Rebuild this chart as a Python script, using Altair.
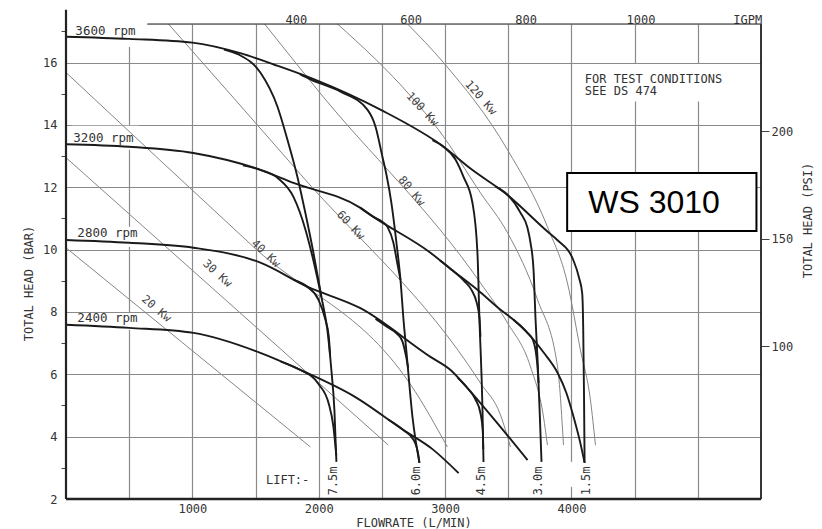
import altair as alt
import pandas as pd

FONT = "DejaVu Sans Mono"
TXT = "#333333"

# ---------------- values (flow L/min, head bar) ----------------
SPEED_3600 = [(0, 16.83), (500, 16.76), (1000, 16.64), (1380, 16.30), (1650, 15.93), (1960, 15.47),
              (2488, 14.49), (2988, 13.30), (3201, 12.60), (3494, 11.75), (3810, 10.58), (3890, 10.30),
              (4016, 9.65), (4060, 9.10), (4085, 8.60), (4093, 7.50), (4099, 5.50), (4104, 3.16)]
SPEED_3200 = [(0, 13.38), (500, 13.30), (1008, 13.10), (1538, 12.56), (1800, 12.14), (2330, 11.34),
              (2433, 11.05), (2884, 9.90), (3044, 9.38), (3256, 8.71), (3438, 8.07), (3541, 7.75),
              (3652, 7.33), (3780, 6.70), (3890, 6.05), (3960, 5.40), (4017, 4.63), (4070, 3.80), (4104, 3.16)]
SPEED_2800 = [(0, 10.31), (500, 10.22), (1008, 10.06), (1538, 9.58), (1910, 8.81), (2330, 8.12),
              (2884, 6.56), (3043, 6.14), (3177, 5.56), (3400, 4.50), (3652, 3.25)]
SPEED_2400 = [(0, 7.59), (500, 7.49), (1008, 7.33), (1538, 6.69), (1855, 6.14), (2290, 5.27),
              (2671, 4.21), (2900, 3.60), (3107, 2.83)]

LIFT_7_5 = [(1250, 16.42), (1365, 16.26), (1538, 15.68), (1673, 14.59), (1752, 13.53), (1831, 12.34),
            (1894, 11.18), (1958, 9.90), (2021, 8.49), (2068, 7.43), (2100, 6.14), (2124, 4.86), (2140, 3.19)]
LIFT_6_0 = [(1850, 15.63), (1934, 15.46), (2172, 15.07), (2385, 14.49), (2449, 13.95), (2504, 12.98),
            (2536, 12.40), (2575, 11.50), (2615, 10.22), (2647, 9.03), (2671, 7.75), (2695, 6.69),
            (2742, 4.63), (2797, 3.16)]
LIFT_4_5 = [(2900, 13.51), (2987, 13.30), (3082, 12.89), (3145, 12.34), (3216, 11.51), (3256, 9.90),
            (3272, 7.75), (3296, 4.86), (3304, 3.19)]
LIFT_3_0 = [(3400, 12.02), (3494, 11.76), (3597, 11.18), (3652, 10.70), (3676, 10.22), (3700, 9.35),
            (3716, 7.75), (3732, 6.46), (3748, 4.86), (3763, 3.19)]

# branches of the lower speeds into the lift lines
BR_75_3200 = [(1400, 12.70), (1538, 12.56), (1680, 12.28), (1800, 11.69), (1895, 10.64), (1955, 9.70), (2021, 8.49)]
BR_75_2800 = [(1800, 9.04), (1910, 8.81), (1997, 8.40), (2053, 7.75), (2080, 7.20), (2090, 6.60)]
BR_75_2400 = [(1700, 6.41), (1840, 6.17), (2000, 5.68), (2080, 5.05), (2115, 4.35), (2139, 3.40)]
BR_60_3200 = [(2330, 11.34), (2433, 11.05), (2500, 10.90), (2544, 10.73), (2591, 10.22), (2620, 9.60), (2647, 9.03)]
BR_60_2800 = [(2450, 7.78), (2545, 7.51), (2620, 7.30), (2663, 7.05), (2690, 6.60), (2708, 6.20)]
BR_60_2400 = [(2550, 4.55), (2671, 4.21), (2750, 3.90), (2789, 3.40), (2797, 3.16)]
BR_45_3200 = [(2960, 9.65), (3044, 9.38), (3150, 9.00), (3210, 8.70), (3250, 8.30), (3272, 7.80), (3280, 7.20)]
BR_45_2800 = [(3100, 5.89), (3177, 5.56), (3240, 5.20), (3280, 4.75), (3298, 4.20), (3302, 3.60)]
BR_30_3200 = [(3541, 7.75), (3652, 7.33), (3695, 7.10), (3716, 6.78), (3730, 6.30), (3740, 5.72)]

# constant power lines (thin)
POWER_20 = [(0, 10.06), (1934, 3.67)]
POWER_30 = [(0, 12.95), (2551, 3.73)]
POWER_40 = [(0, 15.68), (1483, 10.09), (2805, 5.18), (3018, 3.67)]
POWER_60 = [(810, 17.24), (1855, 12.42), (3280, 5.72), (3438, 4.70), (3517, 3.67)]
POWER_80 = [(1571, 17.24), (1989, 15.13), (3280, 8.93), (3494, 7.65), (3676, 6.24), (3779, 4.63), (3810, 3.73)]
POWER_100 = [(2148, 17.24), (2733, 14.90), (2947, 13.85), (3280, 11.82), (3494, 10.54), (3732, 8.39),
             (3890, 6.24), (3937, 3.73)]
POWER_120 = [(2702, 17.24), (2987, 16.00), (3494, 13.20), (3810, 10.73), (3968, 8.93), (4071, 6.78),
             (4150, 5.18), (4190, 3.73)]

RPM_LABELS = ["3600 rpm", "3200 rpm", "2800 rpm", "2400 rpm"]
RPM_Q = [74, 58, 90, 90]
RPM_H = [16.90, 13.46, 10.41, 7.68]

KW_LABELS = ["20 Kw", "30 Kw", "40 Kw", "60 Kw", "80 Kw", "100 Kw", "120 Kw"]
KW_Q = [713, 1195, 1578, 2250, 2732, 2818, 3280]
KW_H = [8.09, 9.22, 9.86, 10.77, 11.87, 14.49, 14.86]
KW_ANGLE = [40, 42, 43, 47, 50, 47, 49]

LIFT_LABELS = ["7.5m", "6.0m", "4.5m", "3.0m", "1.5m"]
LIFT_Q = [2112, 2770, 3288, 3739, 4119]
LIFT_LABEL_H = 2.58

NOTE_LINES = ["FOR TEST CONDITIONS", "SEE DS 474"]
NOTE_Q = 4106
NOTE_H = [15.35, 14.97]

X_TICKS = list(range(0, 5501, 500))
Y_TICKS = list(range(2, 18))
PSI_TICKS = [100, 150, 200, 250]
IGPM_TICKS = [200, 400, 600, 800, 1000, 1186]

Q_MAX = 5500
H_MIN, H_MAX = 2.0, 17.2369          # 250 psi
PSI_PER_BAR = 1 / 0.0689476
L_PER_IGPM = 4.54609

# white label backgrounds (q0, q1, h0, h1) in data units
LABEL_BOXES = [(10, 640, 16.50, 17.2369), (45, 575, 13.20, 13.97), (45, 575, 10.08, 10.73),
               (45, 575, 7.43, 7.97), (4072, 5300, 14.75, 15.95), (3990, 4060, 2.39, 3.19)]
TITLE_BOX = (3966, 5464, 10.60, 12.455)
TITLE_TEXT = "WS 3010"
TITLE_Q, TITLE_H = 4133, 11.17

# ---------------- axes ----------------
XS = alt.Scale(domain=[0, Q_MAX], nice=False, zero=False)
YS = alt.Scale(domain=[H_MIN, H_MAX], nice=False, zero=False)

x_axis = alt.Axis(
    values=X_TICKS, format="d",
    labelExpr="(datum.value >= 1000 && datum.value <= 4000 && datum.value % 1000 === 0) ? datum.label : ''",
    grid=True, gridColor="#8a8a8a", gridWidth=1.2,
    gridOpacity={"condition": {"test": "datum.value > 0 && datum.value < 5500", "value": 1}, "value": 0},
    ticks=False, domain=False, labelPadding=4, labelOverlap=False, labelFlush=False,
    labelFont=FONT, labelFontSize=12, labelColor=TXT,
    title="FLOWRATE (L/MIN)", titleFont=FONT, titleFontSize=12, titleFontWeight="normal",
    titleColor=TXT, titleY=27, titleBaseline="alphabetic",
)
y_axis = alt.Axis(
    values=Y_TICKS, format="d", labelExpr="datum.value % 2 === 0 ? datum.label : ''",
    grid=True, gridColor="#8a8a8a", gridWidth=1.2,
    gridOpacity={"condition": {"test": "datum.value % 2 === 0 && datum.value >= 4 && datum.value <= 16",
                               "value": 1}, "value": 0},
    tickSize=5, tickColor="#444444", tickWidth=1,
    tickOpacity={"condition": {"test": "datum.value % 2 === 1", "value": 1}, "value": 0},
    domain=False, labelPadding=4, labelOverlap=False,
    labelFont=FONT, labelFontSize=12, labelColor=TXT,
    title="TOTAL HEAD (BAR)", titleFont=FONT, titleFontSize=12, titleFontWeight="normal",
    titleColor=TXT, titleX=-38, titleY=259, titleAngle=270, titleBaseline="middle", titleAlign="center",
)
top_axis = alt.Axis(
    orient="top", values=IGPM_TICKS, format="d",
    labelExpr="datum.value === 1186 ? 'IGPM' : (datum.value === 200 ? '' : datum.label)",
    ticks=False, grid=False, domain=False, labelPadding=1, labelBaseline="alphabetic",
    labelOverlap=False, labelFlush=False,
    labelFont=FONT, labelFontSize=12, labelColor=TXT, title=None,
)
right_axis = alt.Axis(
    orient="right", values=PSI_TICKS, format="d", tickSize=8, tickColor="#444444",
    grid=False, domain=False, labelPadding=2, labelOverlap=False,
    labelFont=FONT, labelFontSize=12, labelColor=TXT,
    title="TOTAL HEAD (PSI)", titleFont=FONT, titleFontSize=12, titleFontWeight="normal",
    titleColor=TXT, titleX=46, titleY=196, titleAngle=270, titleBaseline="middle", titleAlign="center",
)


def series_frame(named):
    rows = []
    for name, pts in named:
        for i, (q, h) in enumerate(pts):
            rows.append({"s": name, "i": i, "q": q, "h": h})
    return pd.DataFrame(rows)


def xq():
    return alt.X("q:Q", scale=XS, axis=x_axis)


def yh():
    return alt.Y("h:Q", scale=YS, axis=y_axis)


thick = series_frame([
    ("s3600", SPEED_3600), ("s3200", SPEED_3200), ("s2800", SPEED_2800), ("s2400", SPEED_2400),
    ("l75", LIFT_7_5), ("l60", LIFT_6_0), ("l45", LIFT_4_5), ("l30", LIFT_3_0),
    ("b75a", BR_75_3200), ("b75b", BR_75_2800), ("b75c", BR_75_2400),
    ("b60a", BR_60_3200), ("b60b", BR_60_2800), ("b60c", BR_60_2400),
    ("b45a", BR_45_3200), ("b45b", BR_45_2800), ("b30a", BR_30_3200),
])
thin = series_frame([
    ("p20", POWER_20), ("p30", POWER_30), ("p40", POWER_40), ("p60", POWER_60),
    ("p80", POWER_80), ("p100", POWER_100), ("p120", POWER_120),
])

boxes = alt.Chart(pd.DataFrame(LABEL_BOXES, columns=["q", "q2", "h", "h2"])).mark_rect(
    fill="white", strokeWidth=0).encode(x=xq(), x2="q2:Q", y=yh(), y2="h2:Q")

power = alt.Chart(thin).mark_line(color="#858585", strokeWidth=1.0, interpolate="monotone").encode(
    x=xq(), y=yh(), detail="s:N", order="i:Q")

curves = alt.Chart(thick).mark_line(color="#1a1a1a", strokeWidth=1.9, interpolate="monotone").encode(
    x=xq(), y=yh(), detail="s:N", order="i:Q")

frame_df = pd.DataFrame({
    "q": [0, 0, Q_MAX, 644], "q2": [0, Q_MAX, Q_MAX, Q_MAX],
    "h": [H_MIN, H_MIN, H_MIN, H_MAX], "h2": [17.69, H_MIN, H_MAX, H_MAX],
    "w": [2.2, 2.4, 1.8, 1.2]})
frame = alt.Chart(frame_df).mark_rule(color="#222222").encode(
    x=xq(), x2="q2:Q", y=yh(), y2="h2:Q", strokeWidth=alt.StrokeWidth("w:Q", scale=None))

rpm_text = alt.Chart(pd.DataFrame({"t": RPM_LABELS, "q": RPM_Q, "h": RPM_H})).mark_text(
    align="left", baseline="alphabetic", font=FONT, fontSize=12.5, color=TXT).encode(
    x=xq(), y=yh(), text="t:N")

kw_text = alt.Chart(pd.DataFrame({"t": KW_LABELS, "q": KW_Q, "h": KW_H, "a": KW_ANGLE})).mark_text(
    align="center", baseline="middle", font=FONT, fontSize=11.5, color="#444444").encode(
    x=xq(), y=yh(), text="t:N", angle=alt.Angle("a:Q", scale=None))

lift_text = alt.Chart(pd.DataFrame({"t": LIFT_LABELS, "q": LIFT_Q, "h": [LIFT_LABEL_H] * len(LIFT_LABELS)})).mark_text(
    align="center", baseline="middle", angle=270, font=FONT, fontSize=12, color=TXT).encode(
    x=xq(), y=yh(), text="t:N")

lift_word = alt.Chart(pd.DataFrame({"t": ["LIFT:-"], "q": [1754], "h": [2.61]})).mark_text(
    align="center", baseline="middle", font=FONT, fontSize=12, color=TXT).encode(
    x=xq(), y=yh(), text="t:N")

note_text = alt.Chart(pd.DataFrame({"t": NOTE_LINES, "q": [NOTE_Q] * 2, "h": NOTE_H})).mark_text(
    align="left", baseline="alphabetic", font=FONT, fontSize=12, color=TXT).encode(
    x=xq(), y=yh(), text="t:N")

title_box = alt.Chart(pd.DataFrame([TITLE_BOX], columns=["q", "q2", "h", "h2"])).mark_rect(
    fill="white", stroke="black", strokeWidth=2).encode(x=xq(), x2="q2:Q", y=yh(), y2="h2:Q")

title_text = alt.Chart(pd.DataFrame({"t": [TITLE_TEXT], "q": [TITLE_Q], "h": [TITLE_H]})).mark_text(
    align="left", baseline="alphabetic", font="Liberation Sans", fontSize=32, color="black").encode(
    x=xq(), y=yh(), text="t:N")

IGPM_MAX = Q_MAX / L_PER_IGPM
aux = alt.Chart(pd.DataFrame({"g": [0, IGPM_MAX], "p": [H_MIN * PSI_PER_BAR, H_MAX * PSI_PER_BAR]})).mark_point(
    opacity=0).encode(
    x=alt.X("g:Q", scale=alt.Scale(domain=[0, IGPM_MAX], nice=False, zero=False), axis=top_axis),
    y=alt.Y("p:Q", scale=alt.Scale(domain=[H_MIN * PSI_PER_BAR, H_MAX * PSI_PER_BAR], nice=False, zero=False),
            axis=right_axis))

main = alt.layer(boxes, power, curves, frame, rpm_text, kw_text, lift_text, lift_word,
                 note_text, title_box, title_text)

chart = alt.layer(main, aux).resolve_scale(x="independent", y="independent").properties(
    width=695, height=475,
    autosize=alt.AutoSizeParams(type="none"),
    padding={"left": 58, "top": 16, "right": 53, "bottom": 32},
).configure_view(stroke=None).configure(background="white")

chart.save("out.html", embed_options={"renderer": "svg", "actions": False})
